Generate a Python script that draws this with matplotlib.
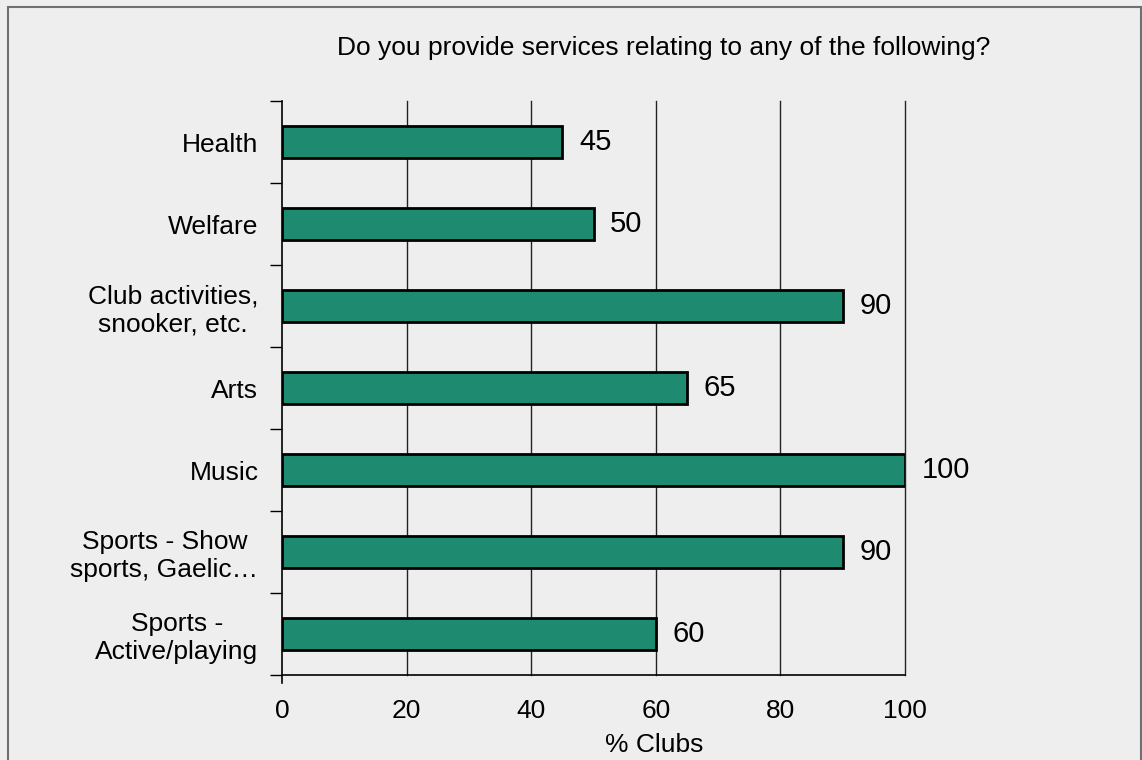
import matplotlib.pyplot as plt
from matplotlib.patches import Rectangle

# Survey data (top to bottom as shown)
categories = [
    "Health",
    "Welfare",
    "Club activities,\nsnooker, etc.",
    "Arts",
    "Music",
    "Sports - Show\nsports, Gaelic\u2026",
    "Sports -\nActive/playing",
]
values = [45, 50, 90, 65, 100, 90, 60]
x_ticks = [0, 20, 40, 60, 80, 100]

plt.rcParams["font.family"] = ["Liberation Sans", "DejaVu Sans"]

fig = plt.figure(figsize=(11.42, 7.6), dpi=100)
fig.patch.set_facecolor("#eeeeee")
ax = fig.add_axes([282 / 1142, 1 - 675 / 760, (905 - 282) / 1142, (675 - 101) / 760])
ax.set_facecolor("#eeeeee")

# border round the whole chart area
fig.patches.append(
    Rectangle((8 / 1142, -0.02), (1141 - 8) / 1142, 1 - 7 / 760 + 0.02,
              transform=fig.transFigure, fill=False, edgecolor="#707070", linewidth=1.5)
)

n = len(categories)
ypos = list(range(n))
bars = ax.barh(ypos, values, height=0.4, color="#1e8a70", edgecolor="black", linewidth=2, zorder=3)

ax.set_xlim(0, 100)
ax.set_ylim(n - 0.5, -0.5)

# gridlines
for t in x_ticks[1:]:
    ax.axvline(t, color="#222222", linewidth=1, zorder=1, clip_on=False)

ax.set_xticks(x_ticks)
ax.set_xticklabels([str(t) for t in x_ticks], fontsize=19)
ax.tick_params(axis="x", length=0, pad=17)

# category labels at centres, tick marks at boundaries
ax.set_yticks([i - 0.5 for i in range(n + 1)])
ax.set_yticklabels([])
ax.tick_params(axis="y", which="major", length=9, width=1, direction="out")
ax.set_yticks(ypos, minor=True)
ax.set_yticklabels(categories, minor=True, fontsize=19, multialignment="center")
ax.tick_params(axis="y", which="minor", length=0, pad=17)

for s in ["top", "right"]:
    ax.spines[s].set_visible(False)
for s in ["left", "bottom"]:
    ax.spines[s].set_linewidth(1.2)
    ax.spines[s].set_color("black")
ax.spines["left"].set_bounds(n - 0.4, -0.5)

for b, v in zip(bars, values):
    ax.annotate(str(v), (v, b.get_y() + b.get_height() / 2), xytext=(12, 0),
                textcoords="offset points", va="center", ha="left", fontsize=21)

fig.text(664 / 1142, 1 - 48 / 760, "Do you provide services relating to any of the following?",
         ha="center", va="center", fontsize=19)
fig.text(654 / 1142, 1 - 745 / 760, "% Clubs", ha="center", va="center", fontsize=19)

fig.savefig("out.png", dpi=100, facecolor=fig.get_facecolor())
